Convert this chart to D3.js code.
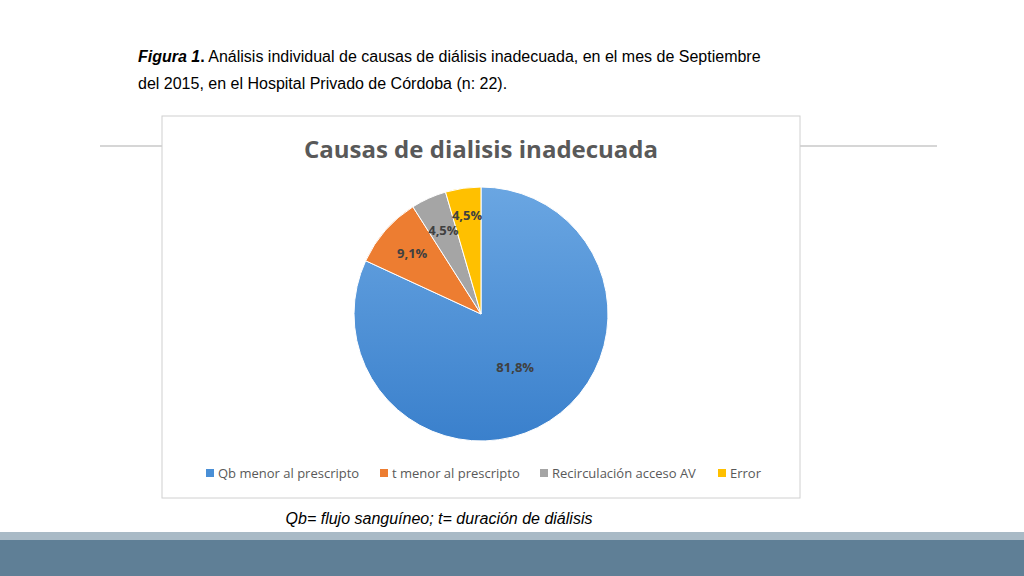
<!DOCTYPE html>
<html lang="es">
<head>
<meta charset="utf-8">
<script src="https://cdn.jsdelivr.net/npm/d3@7"></script>
<style>
  body { margin: 0; background: #fff; }
  .cap { font-family: "Liberation Sans", Arial, sans-serif; font-size: 16px; fill: #000; }
  .ctitle { font-family: "Open Sans", sans-serif; font-size: 24px; font-weight: bold; fill: #595959; }
  .lbl { font-family: "Open Sans", sans-serif; font-size: 13px; font-weight: bold; fill: #404040; }
  .leg { font-family: "Open Sans", sans-serif; font-size: 13px; fill: #595959; }
</style>
</head>
<body>
<script>
var categories = ["Qb menor al prescripto", "t menor al prescripto", "Recirculación acceso AV", "Error"];
var values = [81.8, 9.1, 4.5, 4.5];
var labels = ["81,8%", "9,1%", "4,5%", "4,5%"];
var colors = ["#4a8fd6", "#ed7d31", "#a5a5a5", "#ffc000"];

var w = 1024, h = 576;
var svg = d3.select("body").append("svg").attr("width", w).attr("height", h);

// caption
var t1 = svg.append("text").attr("class", "cap").attr("x", 138).attr("y", 62);
t1.append("tspan").attr("font-weight", "bold").attr("font-style", "italic").text("Figura 1");
t1.append("tspan").attr("font-weight", "bold").text(".");
t1.append("tspan").text(" Análisis individual de causas de diálisis inadecuada, en el mes de Septiembre");
svg.append("text").attr("class", "cap").attr("x", 138).attr("y", 89)
   .text("del 2015, en el Hospital Privado de Córdoba (n: 22).");

// separator line
svg.append("line").attr("x1", 100).attr("x2", 937).attr("y1", 146).attr("y2", 146)
   .attr("stroke", "#c8c8c8").attr("stroke-width", 1.5);

// chart box
svg.append("rect").attr("x", 162).attr("y", 116).attr("width", 638).attr("height", 382)
   .attr("fill", "#fff").attr("stroke", "#d0d0d0");
svg.append("text").attr("class", "ctitle").attr("x", 481).attr("y", 158)
   .attr("text-anchor", "middle").text("Causas de dialisis inadecuada");

var defs = svg.append("defs");
var g = defs.append("linearGradient").attr("id", "blue").attr("x1", 0).attr("y1", 0).attr("x2", 0).attr("y2", 1);
g.append("stop").attr("offset", "0%").attr("stop-color", "#6aa6e2");
g.append("stop").attr("offset", "100%").attr("stop-color", "#3a80cc");

var cx = 481, cy = 314, r = 127;
var pie = d3.pie().sort(null)(values);
var arc = d3.arc().innerRadius(0).outerRadius(r);
var pg = svg.append("g").attr("transform", "translate(" + cx + "," + cy + ")");
pg.selectAll("path").data(pie).enter().append("path")
  .attr("d", arc)
  .attr("fill", function(d, i) { return i === 0 ? "url(#blue)" : colors[i]; })
  .attr("stroke", "#fff").attr("stroke-width", 1);

pg.selectAll("text").data(pie).enter().append("text")
  .attr("class", "lbl").attr("text-anchor", "middle").attr("dy", "0.35em")
  .attr("transform", function(d) {
    var rr = d.value > 50 ? r * 0.5 : r * (d.index === 3 ? 0.78 : 0.72);
    return "translate(" + d3.arc().innerRadius(rr).outerRadius(rr).centroid(d) + ")";
  })
  .text(function(d, i) { return labels[i]; });

// legend
var lx = [206, 380, 540, 718];
var lg = svg.selectAll(".legi").data(categories).enter().append("g")
  .attr("transform", function(d, i) { return "translate(" + lx[i] + ",473)"; });
lg.append("rect").attr("x", 0).attr("y", -4).attr("width", 8).attr("height", 8)
  .attr("fill", function(d, i) { return colors[i]; });
lg.append("text").attr("class", "leg").attr("x", 12).attr("dy", "0.35em").text(function(d) { return d; });

// footnote
svg.append("text").attr("class", "cap").attr("x", 439).attr("y", 524).attr("text-anchor", "middle")
   .attr("font-style", "italic").text("Qb= flujo sanguíneo; t= duración de diálisis");

// bottom band
svg.append("rect").attr("x", 0).attr("y", 532).attr("width", w).attr("height", 8).attr("fill", "#a9bac6");
svg.append("rect").attr("x", 0).attr("y", 540).attr("width", w).attr("height", 36).attr("fill", "#5f7f96");
</script>
</body>
</html>
